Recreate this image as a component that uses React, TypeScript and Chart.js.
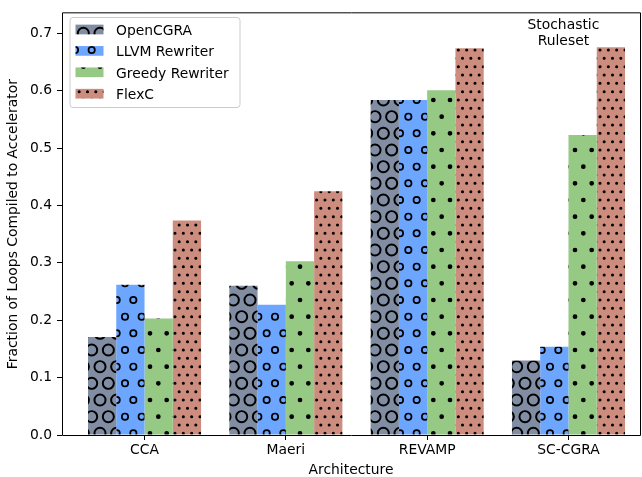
import React, { useEffect, useRef } from 'react';
import { Chart, registerables } from 'chart.js';

Chart.register(...registerables);

const categories = ['CCA', 'Maeri', 'REVAMP', 'SC-CGRA'];
const seriesNames = ['OpenCGRA', 'LLVM Rewriter', 'Greedy Rewriter', 'FlexC'];
const openCGRA = [0.171, 0.26, 0.584, 0.13];
const llvmRewriter = [0.262, 0.227, 0.584, 0.154];
const greedyRewriter = [0.203, 0.303, 0.601, 0.523];
const flexC = [0.374, 0.425, 0.674, 0.676];
const seriesValues = [openCGRA, llvmRewriter, greedyRewriter, flexC];
const seriesColors = ['#808da3', '#6ca6ff', '#95c984', '#cc8c7e'];
// hatch: kind, shape size, rows per inch (matplotlib 'O', 'o', '.', '..')
const seriesHatch = [
  { ring: true, size: 0.35, rows: 6 },
  { ring: true, size: 0.2, rows: 6 },
  { ring: false, size: 0.1, rows: 6 },
  { ring: false, size: 0.1, rows: 12 },
];
const yTickValues = [0, 0.1, 0.2, 0.3, 0.4, 0.5, 0.6, 0.7];
const annotationLines = ['Stochastic', 'Ruleset'];
const annotationPos = { x: 2.964, y: 0.679 };
const yLabel = 'Fraction of Loops Compiled to Accelerator';
const xLabel = 'Architecture';

const FONT = 'DejaVu Sans';
const FS = 13.89;

function makePattern(ctx: CanvasRenderingContext2D, color: string, spec: { ring: boolean; size: number; rows: number }) {
  const T = 100;
  const c = document.createElement('canvas');
  c.width = T;
  c.height = T;
  const g = c.getContext('2d') as CanvasRenderingContext2D;
  g.fillStyle = color;
  g.fillRect(0, 0, T, T);
  g.fillStyle = '#000';
  g.strokeStyle = '#000';
  g.lineWidth = 100 / 72;
  const n = spec.rows;
  const off = T / n;
  const R = spec.size * off;
  for (let r = 0; r <= n; r++) {
    const y = r * off;
    const xs: number[] = [];
    if (r % 2 === 0) {
      for (let j = 0; j <= n; j++) xs.push(j * off);
    } else {
      for (let j = 0; j < n; j++) xs.push((j + 0.5) * off);
    }
    for (const x of xs) {
      g.beginPath();
      g.arc(x, y, R, 0, Math.PI * 2);
      if (spec.ring) {
        g.moveTo(x + 0.9 * R, y);
        g.arc(x, y, 0.9 * R, 0, Math.PI * 2);
        g.fill('evenodd');
      } else {
        g.fill();
      }
      g.stroke();
    }
  }
  return ctx.createPattern(c, 'repeat') as CanvasPattern;
}

export default function App() {
  const ref = useRef<HTMLCanvasElement | null>(null);

  useEffect(() => {
    const canvas = ref.current;
    if (!canvas) return;
    const ctx = canvas.getContext('2d') as CanvasRenderingContext2D;
    const patterns = seriesColors.map((col, i) => makePattern(ctx, col, seriesHatch[i]));

    const overlay = {
      id: 'overlay',
      afterDraw(chart: any) {
        const c = chart.ctx as CanvasRenderingContext2D;
        const a = chart.chartArea;
        c.save();
        // spines
        c.strokeStyle = '#000';
        c.lineWidth = 1;
        c.beginPath();
        c.rect(a.left + 0.5, a.top - 0.5, a.right - a.left, a.bottom - a.top + 1);
        c.stroke();

        // legend
        const bx = 70, by = 17.5, bw = 170, bh = 90, rr = 3;
        c.beginPath();
        c.moveTo(bx + rr, by);
        c.lineTo(bx + bw - rr, by);
        c.arcTo(bx + bw, by, bx + bw, by + rr, rr);
        c.lineTo(bx + bw, by + bh - rr);
        c.arcTo(bx + bw, by + bh, bx + bw - rr, by + bh, rr);
        c.lineTo(bx + rr, by + bh);
        c.arcTo(bx, by + bh, bx, by + bh - rr, rr);
        c.lineTo(bx, by + rr);
        c.arcTo(bx, by, bx + rr, by, rr);
        c.closePath();
        c.fillStyle = 'rgba(255,255,255,0.8)';
        c.fill();
        c.strokeStyle = '#cccccc';
        c.lineWidth = 1;
        c.stroke();

        c.font = `${FS}px "${FONT}"`;
        c.textAlign = 'left';
        c.textBaseline = 'alphabetic';
        for (let i = 0; i < seriesNames.length; i++) {
          const cy = 29.5 + i * 21.4;
          c.fillStyle = patterns[i];
          c.fillRect(75.5, cy - 4.85, 28, 9.7);
          c.fillStyle = '#000';
          c.fillText(seriesNames[i], 116, cy + 5.4);
        }

        // annotation
        const xs = chart.scales.x;
        const ys = chart.scales.y;
        const px = xs.getPixelForValue(annotationPos.x);
        const py = ys.getPixelForValue(annotationPos.y);
        c.textAlign = 'center';
        c.fillStyle = '#000';
        const lh = 16;
        annotationLines.forEach((t, i) => {
          c.fillText(t, px, py - (annotationLines.length - 1 - i) * lh);
        });
        c.restore();
      },
    };

    const chart = new Chart(canvas, {
      type: 'bar',
      data: {
        datasets: seriesNames.map((name, i) => ({
          label: name,
          data: seriesValues[i].map((v, k) => ({ x: k, y: v })),
          backgroundColor: patterns[i],
          borderWidth: 0,
          categoryPercentage: 0.8,
          barPercentage: 1.0,
        })),
      },
      options: {
        responsive: false,
        devicePixelRatio: 1,
        animation: false,
        layout: { padding: { top: 11, right: 2, left: 0, bottom: 0 } },
        plugins: {
          legend: { display: false },
          tooltip: { enabled: false },
        },
        scales: {
          x: {
            type: 'linear',
            min: -0.584,
            max: 3.506,
            offset: false,
            afterBuildTicks: (s: any) => {
              s.ticks = categories.map((_, i) => ({ value: i }));
            },
            afterFit: (s: any) => {
              s.height = 42;
            },
            ticks: {
              autoSkip: false,
              maxRotation: 0,
              padding: 2,
              color: '#000',
              font: { family: FONT, size: FS },
              callback: (v: any) => categories[Math.round(Number(v))],
            },
            grid: {
              display: true,
              offset: false,
              drawOnChartArea: false,
              drawTicks: true,
              tickLength: 5,
              color: '#000',
              lineWidth: 1,
            },
            border: { display: false },
            title: {
              display: true,
              text: xLabel,
              color: '#000',
              font: { family: FONT, size: FS, lineHeight: 1.0 },
              padding: { top: 0, bottom: 0 },
            },
          },
          y: {
            type: 'linear',
            min: 0,
            max: 0.735,
            afterBuildTicks: (s: any) => {
              s.ticks = yTickValues.map((v) => ({ value: v }));
            },
            afterFit: (s: any) => {
              s.width = 62;
            },
            ticks: {
              padding: 5,
              color: '#000',
              font: { family: FONT, size: FS },
              callback: (v: any) => Number(v).toFixed(1),
            },
            grid: {
              display: true,
              drawOnChartArea: false,
              drawTicks: true,
              tickLength: 5,
              color: '#000',
              lineWidth: 1,
            },
            border: { display: false },
            title: {
              display: true,
              text: yLabel,
              color: '#000',
              font: { family: FONT, size: FS, lineHeight: 1.2 },
              padding: { top: 5, bottom: 0 },
            },
          },
        },
      },
      plugins: [overlay],
    } as any);

    return () => {
      chart.destroy();
    };
  }, []);

  return (
    <div style={{ position: 'absolute', left: 0, top: 0, width: 642, height: 477, background: '#fff' }}>
      <canvas ref={ref} width={642} height={477} style={{ display: 'block', width: 642, height: 477 }} />
    </div>
  );
}
